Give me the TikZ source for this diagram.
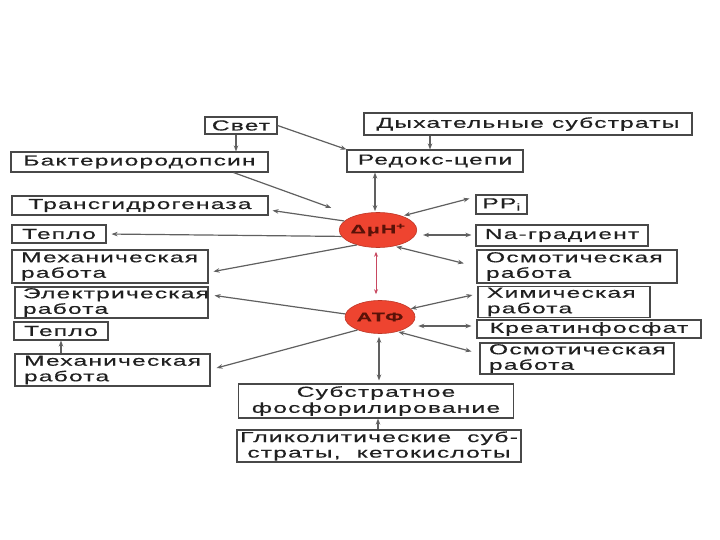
\documentclass[tikz,border=0pt]{standalone}
\usepackage{fontspec}
\setmainfont{Liberation Sans}[FakeStretch=1.7, LetterSpace=8, FakeBold=0.35]
\usetikzlibrary{arrows.meta,shapes.geometric}
\definecolor{lin}{HTML}{606060}
\definecolor{bord}{HTML}{484848}
\definecolor{txt}{HTML}{202020}
\definecolor{redfill}{HTML}{EE4430}
\definecolor{redtext}{HTML}{5A1208}
\definecolor{pinkarr}{HTML}{C84860}
\begin{document}
\begin{tikzpicture}[x=1pt,y=-1pt,
  box/.style={draw=bord, line width=1.1pt, inner sep=0pt, text=txt, font=\fontsize{14.5}{15.5}\selectfont, align=center},
  lbox/.style={box, align=left, inner xsep=9pt},
  ell/.style={ellipse, fill=redfill, draw=redfill!80!black, line width=0.6pt, inner sep=0pt, minimum width=74pt, minimum height=35pt, text=redtext, font=\bfseries\fontsize{12.5}{12.5}\selectfont},
  conn/.style={draw=lin, line width=1.2pt, -{Stealth[length=6pt,width=4.5pt]}},
  both/.style={draw=lin, line width=1.2pt, {Stealth[length=6pt,width=4.5pt]}-{Stealth[length=6pt,width=4.5pt]}},
  redboth/.style={draw=pinkarr, line width=1pt, {Stealth[length=5pt,width=4pt]}-{Stealth[length=5pt,width=4pt]}}
]
\useasboundingbox[fill=white] (0,0) rectangle (720,540);

% boxes
\node[box, minimum width=72pt, minimum height=17pt] (svet) at (241,125.5) {Свет};
\node[box, minimum width=328pt, minimum height=22pt] (dyh) at (528,124) {Дыхательные субстраты};
\node[box, minimum width=257pt, minimum height=20pt] (bakt) at (139.5,162) {Бактериородопсин};
\node[box, minimum width=176pt, minimum height=22pt] (redoks) at (435,161) {Редокс-цепи};
\node[box, minimum width=256pt, minimum height=19pt] (trans) at (140,205.5) {Трансгидрогеназа};
\node[box, minimum width=94pt, minimum height=18pt] (teplo1) at (59,234) {Тепло};
\node[box, minimum width=51pt, minimum height=19pt] (pp) at (501.5,204.5) {PP\textsubscript{i}};
\node[box, minimum width=172pt, minimum height=21pt] (na) at (562,235.5) {Na-градиент};
\node[lbox, text width=178pt, minimum height=33pt] (meh1) at (110,266.5) {Механическая\\работа};
\node[lbox, text width=182pt, minimum height=33pt] (osm1) at (577,266.5) {Осмотическая\\работа};
\node[lbox, text width=177pt, minimum height=31pt, inner xsep=8pt] (el) at (111.5,302.5) {Электрическая\\работа};
\node[lbox, text width=154pt, minimum height=31pt] (him) at (564,302) {Химическая\\работа};
\node[box, minimum width=94pt, minimum height=18pt] (teplo2) at (61,331) {Тепло};
\node[box, minimum width=224pt, minimum height=18pt] (kreat) at (589,329) {Креатинфосфат};
\node[lbox, text width=177pt, minimum height=32pt] (meh2) at (112.5,370) {Механическая\\работа};
\node[lbox, text width=176pt, minimum height=31pt] (osm2) at (577,358.5) {Осмотическая\\работа};
\node[box, minimum width=275pt, minimum height=34pt, font=\fontsize{14.5}{16}\selectfont] (subst) at (376,401) {Субстратное\\фосфорилирование};
\node[box, minimum width=284pt, minimum height=32pt] (glik) at (379,446) {Гликолитические\ \ суб-\\страты,\ \ кетокислоты};

% ellipses
\node[ell] (dmu) at (378,230) {ΔμH\textsuperscript{+}};
\node[ell, minimum width=70pt, minimum height=33pt] (atf) at (380,317) {АТФ};

% connectors top
\draw[conn] ([shift={(-5,0)}]svet.south) -- ([shift={(-5,0)}]svet.south |- bakt.north);
\draw[conn] (svet.east) -- (redoks.north west);
\draw[conn] ([shift={(-5,0)}]redoks.north |- dyh.south) -- ([shift={(-5,0)}]redoks.north);
\draw[conn, shorten >=24pt] ([shift={(-35,0)}]bakt.south east) -- (dmu.150);
\draw[both, shorten >=1pt] ([shift={(-3,0)}]dmu.north |- redoks.south) -- ([shift={(-3,0)}]dmu.north);

% from dmu, left
\draw[conn] (dmu.165) -- ([shift={(4,-5)}]trans.south east);
\draw[conn, shorten >=5pt] (dmu.190) -- (teplo1.east);
\draw[conn] (dmu.215) -- ([shift={(5,5)}]meh1.east);

% from dmu, right
\draw[both, shorten <=2pt] (dmu.30) -- ([shift={(-6,-6)}]pp.west);
\draw[both, shorten <=3pt, shorten >=4pt] ([shift={(3,5)}]dmu.east) -- ([shift={(0,-0.5)}]na.west);
\draw[both, shorten <=2pt, shorten >=13pt] (dmu.-45) -- (osm1.west);

% dmu <-> atf
\draw[redboth, shorten <=4pt, shorten >=6pt] ([shift={(-2,0)}]dmu.south) -- ([shift={(-2,0)}]dmu.south |- atf.north);

% from atf, left
\draw[conn] (atf.175) -- ([shift={(6,-7)}]el.east);
\draw[conn] (atf.210) -- ([shift={(6,-2)}]meh2.east);
\draw[conn] (teplo2.south |- meh2.north) -- (teplo2.south);

% from atf, right
\draw[both] (atf.15) -- ([shift={(-5,-7)}]him.west);
\draw[both, shorten <=3pt, shorten >=5pt] ([shift={(0,-3)}]kreat.west -| atf.east) -- ([shift={(0,-3)}]kreat.west);
\draw[both, shorten <=1pt] (atf.-40) -- ([shift={(-8,-7)}]osm2.west);

% bottom
\draw[both, shorten <=3pt, shorten >=3pt] ([shift={(-1,0)}]atf.south) -- ([shift={(-1,0)}]atf.south |- subst.north);
\draw[conn] ([shift={(-1,0)}]glik.north) -- ([shift={(-1,0)}]glik.north |- subst.south);
\end{tikzpicture}
\end{document}
